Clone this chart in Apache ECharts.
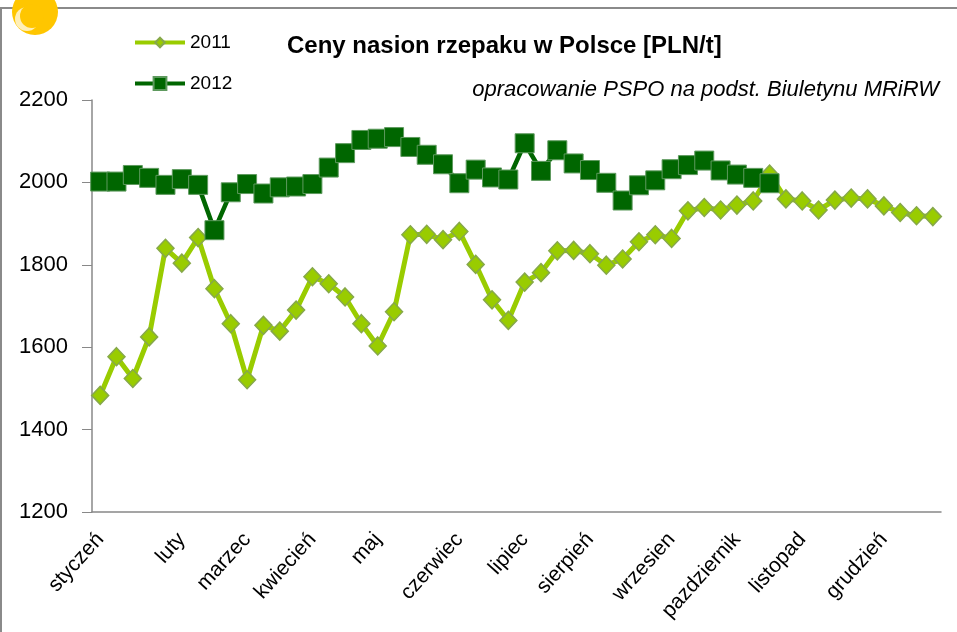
<!DOCTYPE html>
<html>
<head>
<meta charset="utf-8">
<script src="https://cdn.jsdelivr.net/npm/echarts@6/dist/echarts.min.js"></script>
<style>
html,body{margin:0;padding:0;background:#fff;}
#chart{width:957px;height:632px;}
</style>
</head>
<body>
<div id="chart"></div>
<script>
// ---- data ----
const seriesNames = ['2011', '2012'];
const months = ['styczeń','luty','marzec','kwiecień','maj','czerwiec','lipiec','sierpień','wrzesien','pazdziernik','listopad','grudzień'];
const monthFirstWeek = [1, 6, 10, 14, 18, 23, 27, 31, 36, 40, 44, 49];
const weekCount = 52;
const yTicks = [1200, 1400, 1600, 1800, 2000, 2200];
const prices2011 = [1483, 1577, 1524, 1625, 1840, 1804, 1866, 1742, 1657, 1521,
                    1653, 1639, 1690, 1771, 1754, 1722, 1657, 1603, 1686, 1873,
                    1874, 1861, 1881, 1801, 1715, 1665, 1758, 1781, 1834, 1835,
                    1827, 1799, 1814, 1856, 1873, 1864, 1931, 1939, 1933, 1945,
                    1955, 2020, 1960, 1955, 1933, 1957, 1962, 1960, 1943, 1927,
                    1919, 1917];
const prices2012 = [2002, 2002, 2018, 2011, 1994, 2008, 1994, 1884, 1976, 1996,
                    1973, 1988, 1990, 1996, 2036, 2071, 2103, 2106, 2110, 2086,
                    2067, 2044, 1998, 2031, 2012, 2007, 2095, 2028, 2078, 2046,
                    2030, 1999, 1956, 1993, 2005, 2032, 2042, 2053, 2029, 2019,
                    2011, 1998];
const titleText = 'Ceny nasion rzepaku w Polsce [PLN/t]';
const subtitleText = 'opracowanie PSPO na podst. Biuletynu MRiRW';

// ---- categories (week numbers) ----
const weeks = [];
for (let i = 1; i <= weekCount; i++) weeks.push(String(i));
const monthByWeek = {};
months.forEach((m, k) => { monthByWeek[String(monthFirstWeek[k])] = m; });

// ---- font detection ----
function hasFont(name) {
  const c = document.createElement('canvas').getContext('2d');
  const s = 'abcdefghijklmnopqrstuvwxyz0123456789';
  c.font = '40px monospace';
  const a = c.measureText(s).width;
  c.font = '40px "' + name + '", monospace';
  return Math.abs(c.measureText(s).width - a) > 0.5;
}
const narrow = hasFont('Liberation Sans Narrow');
const base = '"Liberation Sans", Arial, sans-serif';
const narrowFam = narrow ? '"Liberation Sans Narrow", "Liberation Sans", sans-serif' : base;
const titleSize = narrow ? 29 : 24;
const legendSize = narrow ? 22 : 19;

const C2011 = '#99CC00', C2011b = '#86A84A';
const C2012 = '#006600', C2012b = '#5E9A5E';

const chart = echarts.init(document.getElementById('chart'), null, {renderer: 'canvas'});
chart.setOption({
  backgroundColor: '#ffffff',
  animation: false,
  title: [
    { text: titleText, left: 282, top: 29,
      textStyle: { fontFamily: narrowFam, fontWeight: 'bold', fontSize: titleSize, color: '#000' } },
    { text: subtitleText, right: 13, top: 74,
      textStyle: { fontFamily: base, fontStyle: 'italic', fontWeight: 'normal', fontSize: 22, color: '#000' } }
  ],
  legend: [
    { data: [seriesNames[0]], left: 128, top: 28, itemWidth: 50, itemHeight: 12, itemGap: 0,
      lineStyle: { width: 4 },
      textStyle: { fontFamily: narrowFam, fontSize: legendSize, color: '#000' } },
    { data: [seriesNames[1]], left: 128, top: 69, itemWidth: 50, itemHeight: 16, itemGap: 0,
      lineStyle: { width: 4 },
      textStyle: { fontFamily: narrowFam, fontSize: legendSize, color: '#000' } }
  ],
  grid: { left: 92, right: 16, top: 100, bottom: 120, containLabel: false },
  xAxis: {
    type: 'category',
    data: weeks,
    boundaryGap: true,
    axisLine: { lineStyle: { color: '#888888', width: 1.5 } },
    axisTick: { show: false },
    axisLabel: {
      interval: 0, rotate: 48, margin: 24,
      fontFamily: base, fontSize: 21, color: '#000',
      formatter: (v) => monthByWeek[v] || ''
    },
    splitLine: { show: false }
  },
  yAxis: {
    type: 'value',
    min: yTicks[0], max: yTicks[yTicks.length - 1], interval: 200,
    axisLine: { show: true, lineStyle: { color: '#888888', width: 1.5 } },
    axisTick: { show: true, length: 10, lineStyle: { color: '#888888', width: 1 } },
    axisLabel: { margin: 24, fontFamily: base, fontSize: 22, color: '#000',
                 formatter: (v) => String(v) },
    splitLine: { show: false }
  },
  series: [
    { name: seriesNames[0], type: 'line', data: prices2011,
      symbol: 'diamond', symbolSize: [17, 18],
      lineStyle: { color: C2011, width: 5 },
      itemStyle: { color: C2011, borderColor: C2011b, borderWidth: 1.5 },
      z: 2 },
    { name: seriesNames[1], type: 'line', data: prices2012,
      symbol: 'rect', symbolSize: 19,
      lineStyle: { color: C2012, width: 4.5 },
      itemStyle: { color: C2012, borderColor: C2012b, borderWidth: 1 },
      z: 3 }
  ],
  graphic: [
    { type: 'polyline', shape: { points: [[1, 640], [1, 8], [960, 8]] },
      style: { stroke: '#8a8a8a', lineWidth: 2, fill: null }, z: 0 },
    { type: 'circle', shape: { cx: 35, cy: 12, r: 23 }, style: { fill: '#FFC600' }, z: 10 },
    { type: 'circle', shape: { cx: 27, cy: 19, r: 12 }, style: { fill: '#FFEFB8' }, z: 11 },
    { type: 'circle', shape: { cx: 32, cy: 16, r: 12 }, style: { fill: '#FFC600' }, z: 12 }
  ]
});
</script>
</body>
</html>
